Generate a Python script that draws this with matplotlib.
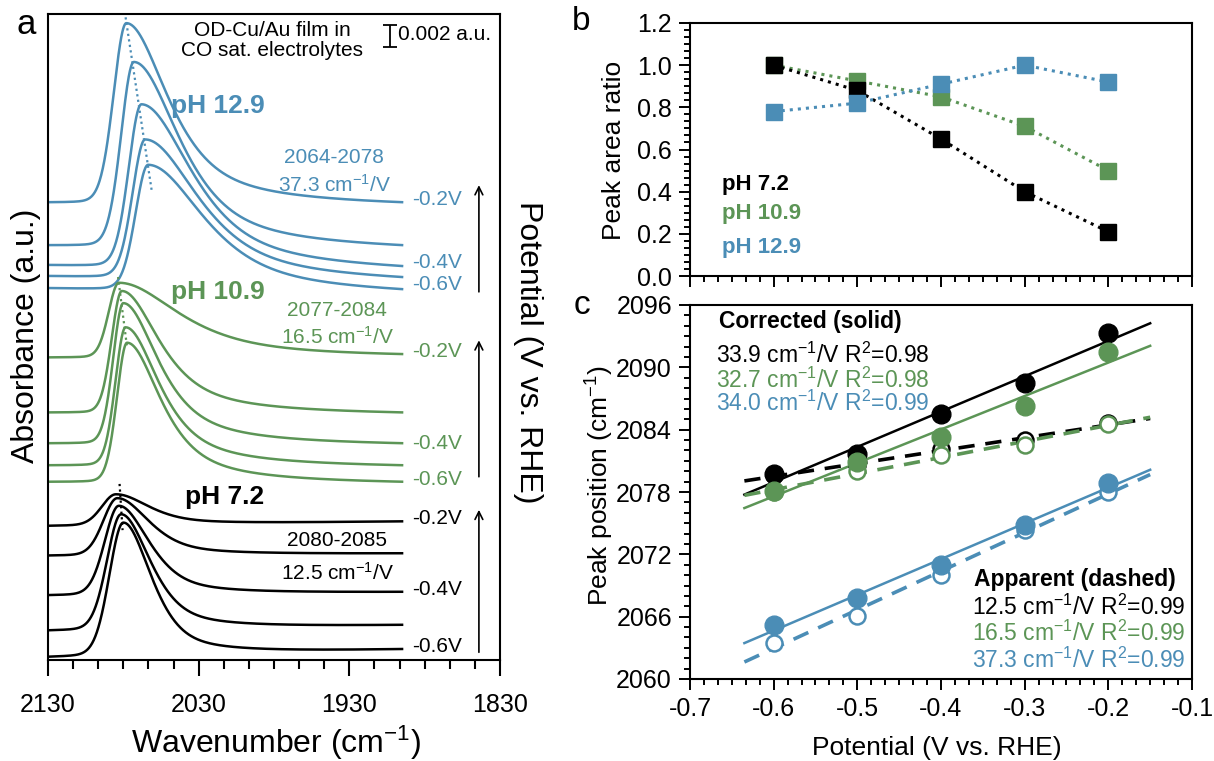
import numpy as np
import matplotlib
matplotlib.use('Agg')
import matplotlib.pyplot as plt
from matplotlib.ticker import MultipleLocator, AutoMinorLocator, FormatStrFormatter

plt.rcParams['font.family'] = ['Liberation Sans', 'DejaVu Sans']
plt.rcParams['mathtext.fontset'] = 'custom'
plt.rcParams['mathtext.rm'] = 'Liberation Sans'
plt.rcParams['mathtext.it'] = 'Liberation Sans:italic'
plt.rcParams['mathtext.bf'] = 'Liberation Sans:bold'
plt.rcParams['axes.unicode_minus'] = False

BLUE = '#4B8DB6'
GREEN = '#5C9556'
BLACK = 'black'

# ---- panel a: peak parameters (y in 0.001 a.u.), first entry = -0.2 V
wn_hi, wn_lo = 2130, 1895
wn_ticks = [2130, 2030, 1930, 1830]

ph129_center = [2078, 2073, 2068, 2065.5, 2063.5]
ph129_height = [16.4, 16.8, 14.8, 12.6, 11.4]
ph129_start = [41.6, 37.7, 35.9, 34.9, 33.8]
ph129_end = [41.6, 37.7, 35.8, 34.8, 33.7]
ph129_width_r = [33, 36, 40, 42, 44]

ph109_center = [2083, 2081, 2080, 2078.5, 2077.5]
ph109_height = [6.8, 11.1, 12.8, 12.6, 12.7]
ph109_start = [27.5, 22.5, 19.7, 17.7, 16.2]
ph109_end = [27.8, 22.5, 19.7, 17.7, 16.2]
ph109_width_r = [48, 30, 28, 27, 27]

ph72_center = [2085, 2084, 2083, 2081.5, 2080]
ph72_height = [2.8, 5.2, 8.1, 10.5, 12.1]
ph72_start = [12.2, 9.5, 5.9, 2.7, 0.3]
ph72_end = [12.6, 9.7, 6.2, 3.2, 1.0]
ph72_width_r = [26, 25, 24, 23, 22]

# dotted peak traces (wavenumber, y)
trace129 = ([2078.5, 2061], [58.4, 42.5])
trace109 = ([2083.5, 2077.5], [34.8, 28.4])
trace72 = ([2082.5, 2080.5], [16.0, 11.8])

# ---- panel b
potential = [-0.6, -0.5, -0.4, -0.3, -0.2]
area_72 = [1.00, 0.88, 0.65, 0.40, 0.21]
area_109 = [1.00, 0.925, 0.85, 0.71, 0.50]
area_129 = [0.78, 0.82, 0.91, 1.00, 0.92]

# ---- panel c
corr_72 = [2079.7, 2081.7, 2085.5, 2088.5, 2093.3]
corr_109 = [2078.1, 2080.9, 2083.3, 2086.3, 2091.5]
corr_129 = [2065.2, 2067.8, 2071.0, 2074.8, 2078.9]
app_72 = [2079.6, 2080.6, 2082.1, 2083.0, 2084.6]
app_109 = [2078.0, 2080.0, 2081.6, 2082.5, 2084.5]
app_129 = [2063.5, 2066.1, 2070.0, 2074.3, 2078.0]
pos_ticks = [2060, 2066, 2072, 2078, 2084, 2090, 2096]
corr_text = ['33.9 cm$^{-1}$/V R$^{2}$=0.98', '32.7 cm$^{-1}$/V R$^{2}$=0.98', '34.0 cm$^{-1}$/V R$^{2}$=0.99']
app_text = ['12.5 cm$^{-1}$/V R$^{2}$=0.99', '16.5 cm$^{-1}$/V R$^{2}$=0.99', '37.3 cm$^{-1}$/V R$^{2}$=0.99']


def pv(d, w, eta):
    r = (d / w) ** 2
    return eta / (1 + r) + (1 - eta) * np.exp(-np.log(2) * r)


def shape(x, c, wl, wr, er):
    d = x - c
    return np.where(d >= 0, pv(d, wl, 0.1), pv(d, wr, er))


W, H = 1214, 761
fig = plt.figure(figsize=(W / 100, H / 100), dpi=100)
ax_a = fig.add_axes([48 / W, 1 - 660 / H, 452 / W, 646 / H])
ax_b = fig.add_axes([690 / W, 1 - 276 / H, 502 / W, 253 / H])
ax_c = fig.add_axes([690 / W, 1 - 679 / H, 502 / W, 374 / H])

# ---------------- panel a
wn = np.linspace(wn_hi, wn_lo, 900)
groups = [
    (ph129_center, ph129_height, ph129_start, ph129_end, ph129_width_r, 10, 0.75, BLUE, trace129),
    (ph109_center, ph109_height, ph109_start, ph109_end, ph109_width_r, 8, 0.8, GREEN, trace109),
    (ph72_center, ph72_height, ph72_start, ph72_end, ph72_width_r, 11, 0.6, BLACK, trace72),
]
for cen, hgt, y0, y1, wr, wl, er, col, tr in groups:
    for c, h, a, b, w in zip(cen, hgt, y0, y1, wr):
        s = shape(wn, c, wl, w, er)
        b0 = a - h * s[0]
        b1 = b - h * s[-1]
        base = b0 + (b1 - b0) * (wn_hi - wn) / (wn_hi - wn_lo)
        ax_a.plot(wn, base + h * s, color=col, lw=1.8)
    ax_a.plot(tr[0], tr[1], color=col, lw=1.6, ls=(0, (1, 1.5)))

ax_a.set_xlim(2130, 1830)
ax_a.set_ylim(0, 58.7)
ax_a.set_yticks([])
ax_a.set_xticks(wn_ticks)
ax_a.xaxis.set_minor_locator(AutoMinorLocator(6))
ax_a.tick_params(axis='x', which='major', direction='out', length=11.5, width=1.5, labelsize=18, pad=12)
ax_a.tick_params(axis='x', which='minor', direction='out', length=6.5, width=1.5)

ax_a.text(1981, 56.3, 'OD-Cu/Au film in\nCO sat. electrolytes', ha='center', va='center',
          fontsize=15, linespacing=1.1)
ax_a.errorbar([1903], [56.7], yerr=[1.0], color='black', lw=1.3, capsize=4.7, capthick=1.3)
ax_a.text(1897.5, 56.8, '0.002 a.u.', ha='left', va='center', fontsize=15)

ax_a.text(2048.4, 50.3, 'pH 12.9', color=BLUE, fontsize=19, fontweight='bold', va='center')
ax_a.text(1940, 45.7, '2064-2078', color=BLUE, fontsize=15, ha='center', va='center')
ax_a.text(1940, 43.2, '37.3 cm$^{-1}$/V', color=BLUE, fontsize=15, ha='center', va='center')
ax_a.text(2048.4, 33.4, 'pH 10.9', color=GREEN, fontsize=19, fontweight='bold', va='center')
ax_a.text(1938, 31.8, '2077-2084', color=GREEN, fontsize=15, ha='center', va='center')
ax_a.text(1938, 29.4, '16.5 cm$^{-1}$/V', color=GREEN, fontsize=15, ha='center', va='center')
ax_a.text(2039, 14.8, 'pH 7.2', color=BLACK, fontsize=19, fontweight='bold', va='center')
ax_a.text(1938, 10.9, '2080-2085', color=BLACK, fontsize=15, ha='center', va='center')
ax_a.text(1938, 7.9, '12.5 cm$^{-1}$/V', color=BLACK, fontsize=15, ha='center', va='center')

volt_labels = ['-0.2V', '-0.4V', '-0.6V']
volt_y = [(41.8, 36.1, 34.1), (28.0, 19.7, 16.4), (12.9, 6.4, 1.2)]
for col, ys in zip([BLUE, GREEN, BLACK], volt_y):
    for lab, yy in zip(volt_labels, ys):
        ax_a.text(1888.5, yy, lab, color=col, fontsize=15, va='center')

arrow_span = [(33.2, 43.4), (16.4, 29.3), (0.45, 13.9)]
for lo, hi in arrow_span:
    ax_a.annotate('', xy=(1844, hi), xytext=(1844, lo),
                  arrowprops=dict(arrowstyle='->', lw=1.2, color='black', mutation_scale=14))

for sp in ax_a.spines.values():
    sp.set_linewidth(1.5)

fig.text(26 / W, 1 - 336 / H, 'Absorbance (a.u.)', rotation=90, ha='center', va='center', fontsize=23)
fig.text(276 / W, 1 - 753 / H, 'Wavenumber (cm$^{-1}$)', ha='center', va='baseline', fontsize=23)
fig.text(528 / W, 1 - 352 / H, 'Potential (V vs. RHE)', rotation=-90, ha='center', va='center', fontsize=23)
fig.text(26 / W, 1 - 24 / H, 'a', ha='center', va='center', fontsize=25)

# ---------------- panel b
ax_b.plot(potential, area_109, ls=':', lw=2.2, color=GREEN, marker='s', ms=11)
ax_b.plot(potential, area_72, ls=':', lw=2.2, color=BLACK, marker='s', ms=11)
ax_b.plot(potential, area_129, ls=':', lw=2.2, color=BLUE, marker='s', ms=11)
ax_b.set_xlim(-0.7, -0.1)
ax_b.set_ylim(0, 1.2)
ax_b.xaxis.set_major_locator(MultipleLocator(0.1))
ax_b.xaxis.set_minor_locator(AutoMinorLocator(6))
ax_b.yaxis.set_major_locator(MultipleLocator(0.2))
ax_b.yaxis.set_minor_locator(AutoMinorLocator(6))
ax_b.yaxis.set_major_formatter(FormatStrFormatter('%.1f'))
ax_b.tick_params(axis='x', labelbottom=False)
ax_b.text(0.064, 0.36, 'pH 7.2', transform=ax_b.transAxes, color=BLACK, fontsize=16, fontweight='bold', va='center')
ax_b.text(0.064, 0.249, 'pH 10.9', transform=ax_b.transAxes, color=GREEN, fontsize=16, fontweight='bold', va='center')
ax_b.text(0.064, 0.111, 'pH 12.9', transform=ax_b.transAxes, color=BLUE, fontsize=16, fontweight='bold', va='center')
fig.text(614 / W, 1 - 150 / H, 'Peak area ratio', rotation=90, ha='center', va='center', fontsize=19)
fig.text(581 / W, 1 - 22 / H, 'b', ha='center', va='center', fontsize=24)

# ---------------- panel c
xfit = np.array([-0.635, -0.15])
for corr, app, col in [(corr_72, app_72, BLACK), (corr_109, app_109, GREEN), (corr_129, app_129, BLUE)]:
    k, b = np.polyfit(potential, app, 1)
    ax_c.plot(xfit, k * xfit + b, color=col, lw=2.6, ls=(0, (4.5, 3)), zorder=2)
    k, b = np.polyfit(potential, corr, 1)
    ax_c.plot(xfit, k * xfit + b, color=col, lw=1.8, zorder=2)
for corr, app, col in [(corr_72, app_72, BLACK), (corr_109, app_109, GREEN), (corr_129, app_129, BLUE)]:
    ax_c.plot(potential, app, ls='none', marker='o', ms=11.5, mfc='white', mec=col, mew=1.8, zorder=3)
for corr, app, col in [(corr_72, app_72, BLACK), (corr_109, app_109, GREEN), (corr_129, app_129, BLUE)]:
    ax_c.plot(potential, corr, ls='none', marker='o', ms=13.5, color=col, zorder=4)

ax_c.set_xlim(-0.7, -0.1)
ax_c.set_ylim(2060, 2096)
ax_c.xaxis.set_major_locator(MultipleLocator(0.1))
ax_c.xaxis.set_minor_locator(AutoMinorLocator(6))
ax_c.set_yticks(pos_ticks)
ax_c.yaxis.set_minor_locator(AutoMinorLocator(6))
ax_c.xaxis.set_major_formatter(FormatStrFormatter('%.1f'))

ax_c.text(0.058, 0.955, 'Corrected (solid)', transform=ax_c.transAxes, fontsize=16.5, fontweight='bold', va='center')
for t, col, yy in zip(corr_text, [BLACK, GREEN, BLUE], [0.866, 0.799, 0.738]):
    ax_c.text(0.052, yy, t, transform=ax_c.transAxes, color=col, fontsize=16.5, va='center')
ax_c.text(0.566, 0.265, 'Apparent (dashed)', transform=ax_c.transAxes, fontsize=16.5, fontweight='bold', va='center')
for t, col, yy in zip(app_text, [BLACK, GREEN, BLUE], [0.193, 0.123, 0.051]):
    ax_c.text(0.562, yy, t, transform=ax_c.transAxes, color=col, fontsize=16.5, va='center')

fig.text(600 / W, 1 - 486 / H, 'Peak position (cm$^{-1}$)', rotation=90, ha='center', va='center', fontsize=19)
fig.text(937 / W, 1 - 748 / H, 'Potential (V vs. RHE)', ha='center', va='center', fontsize=19)
fig.text(582 / W, 1 - 306 / H, 'c', ha='center', va='center', fontsize=24)

for ax in (ax_b, ax_c):
    ax.tick_params(which='major', direction='out', length=8, width=1.4, labelsize=18, pad=5)
    ax.tick_params(which='minor', direction='out', length=4.5, width=1.4)
    for sp in ax.spines.values():
        sp.set_linewidth(1.5)

fig.savefig('out.png', dpi=100)
